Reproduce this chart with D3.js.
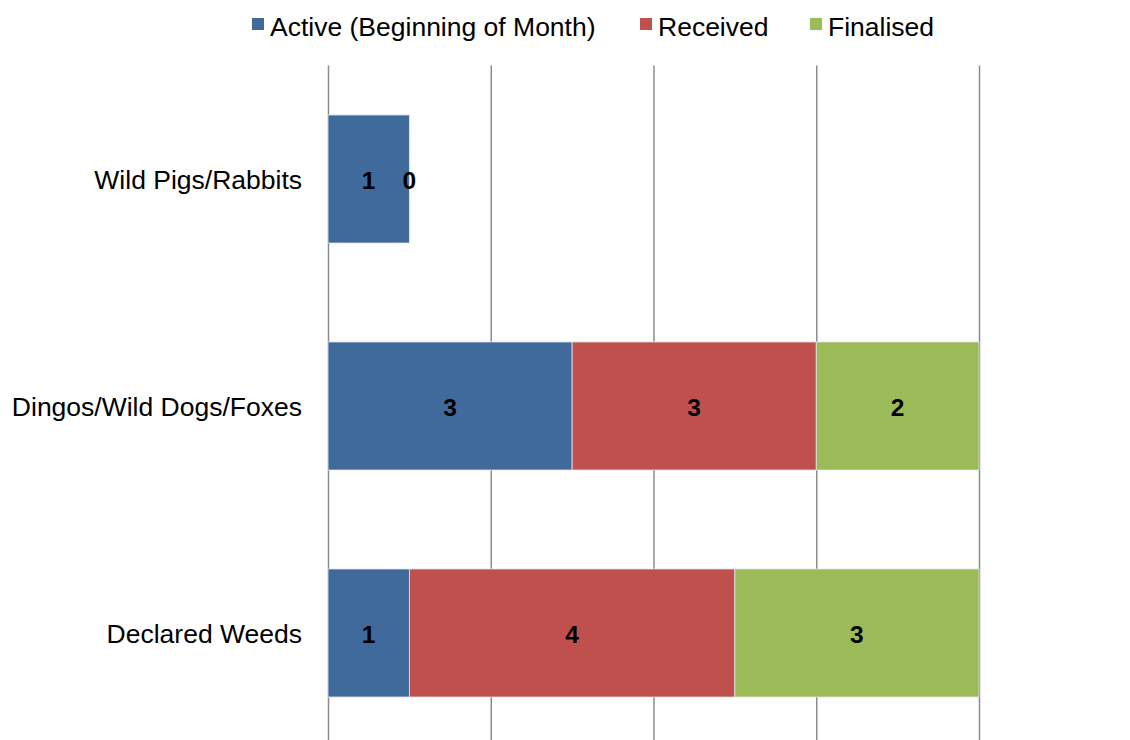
<!DOCTYPE html>
<html>
<head>
<meta charset="utf-8">
<script src="https://cdn.jsdelivr.net/npm/d3@7"></script>
<style>
  html, body { margin: 0; padding: 0; background: #fff; }
  svg { display: block; font-family: "Liberation Sans", Arial, sans-serif; }
</style>
</head>
<body>
<svg id="chart" width="1130" height="740"></svg>
<script>
// Pest-control requests by category
const categories = ["Wild Pigs/Rabbits", "Dingos/Wild Dogs/Foxes", "Declared Weeds"];
const seriesNames = ["Active (Beginning of Month)", "Received", "Finalised"];
const activeValues = [1, 3, 1];
const receivedValues = [0, 3, 4];
const finalisedValues = [0, 2, 3];
const xTicks = [0, 2, 4, 6, 8];
const colors = ["#416A9C", "#C0504D", "#9BBB59"];

const svg = d3.select("#chart");
const plotLeft = 328, plotRight = 979, plotTop = 65.5, plotBottom = 746.5;

const x = d3.scaleLinear().domain([0, 8]).range([plotLeft, plotRight]);
const y = d3.scaleBand().domain(categories).range([plotTop, plotBottom]).paddingInner(0.436).paddingOuter(0.218);

const rows = categories.map((c, i) => ({
  category: c,
  "Active (Beginning of Month)": activeValues[i],
  "Received": receivedValues[i],
  "Finalised": finalisedValues[i]
}));
const stacked = d3.stack().keys(seriesNames)(rows);

// vertical gridlines
svg.append("g")
  .attr("transform", `translate(0,${plotTop})`)
  .call(d3.axisBottom(x).tickValues(xTicks).tickSize(740 - plotTop).tickFormat(""))
  .call(g => g.select(".domain").remove())
  .call(g => g.selectAll(".tick line").attr("stroke", "#8c8c8c").attr("stroke-width", 1.5));

// category labels
svg.append("g")
  .attr("transform", `translate(${plotLeft},0)`)
  .call(d3.axisLeft(y).tickSize(0).tickPadding(26))
  .call(g => g.select(".domain").remove())
  .call(g => g.selectAll(".tick text")
    .attr("font-size", 26.5).attr("fill", "#000").attr("dy", "0.36em")
    .attr("font-family", "'Liberation Sans', Arial, sans-serif"));

// stacked bars
const layers = svg.append("g").selectAll("g").data(stacked).join("g")
  .attr("fill", (d, i) => colors[i]);

layers.selectAll("rect").data(d => d).join("rect")
  .attr("x", d => x(d[0]))
  .attr("y", d => y(d.data.category))
  .attr("width", d => x(d[1]) - x(d[0]))
  .attr("height", y.bandwidth())
  .attr("stroke", "#dfe6ef")
  .attr("stroke-width", d => d[1] > d[0] ? 0.8 : 0);

// value labels (zero-width segments share a spot, so only the first is labelled)
stacked.forEach((layer, si) => {
  layer.forEach((d, ci) => {
    const v = d[1] - d[0];
    if (v === 0 && si === 2 && stacked[1][ci][1] - stacked[1][ci][0] === 0) return;
    svg.append("text")
      .attr("x", x((d[0] + d[1]) / 2))
      .attr("y", y(d.data.category) + y.bandwidth() / 2 + 1.5)
      .attr("dy", "0.36em")
      .attr("text-anchor", "middle")
      .attr("font-size", 24.5)
      .attr("font-weight", "bold")
      .attr("fill", "#000")
      .text(v);
  });
});

// legend
const legendItems = [
  { name: seriesNames[0], sq: 252 },
  { name: seriesNames[1], sq: 640 },
  { name: seriesNames[2], sq: 810 }
];
const lg = svg.append("g");
legendItems.forEach((it, i) => {
  lg.append("rect").attr("x", it.sq).attr("y", 18).attr("width", 12).attr("height", 12).attr("fill", colors[i]);
  lg.append("text").attr("x", it.sq + 18).attr("y", 26).attr("dy", "0.36em")
    .attr("font-size", 26.5).attr("fill", "#000").text(it.name);
});
</script>
</body>
</html>
